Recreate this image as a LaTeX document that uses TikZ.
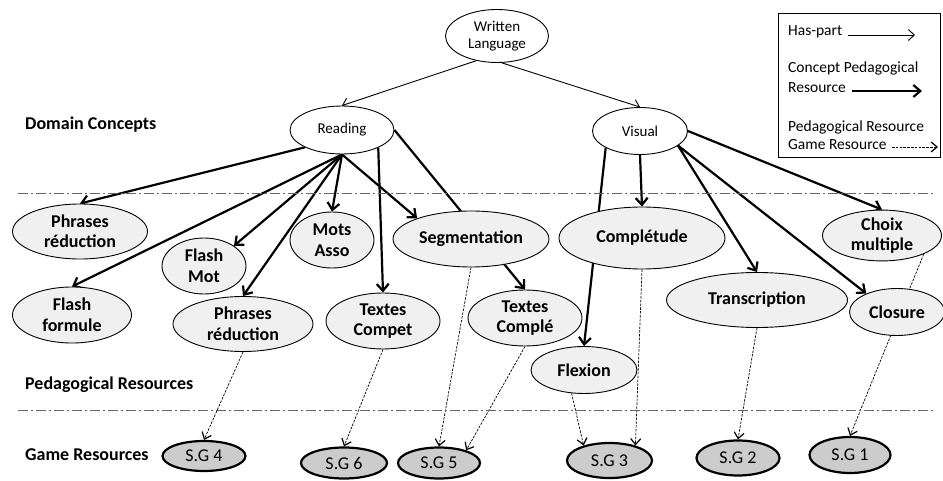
\documentclass[tikz,border=0pt]{standalone}
\usepackage{fontspec}
\setmainfont{Carlito}
\usetikzlibrary{shapes.geometric,arrows.meta}
\pgfdeclarelayer{bg}
\pgfsetlayers{bg,main}
\begin{document}
\begin{tikzpicture}[x=1pt,y=-1pt,
  concept/.style={ellipse,draw=black,line width=0.9pt,fill=white,inner sep=0pt,align=center,font=\fontsize{15}{17}\selectfont},
  pedres/.style={ellipse,draw=black,line width=0.9pt,fill=black!6,inner sep=0pt,align=center,font=\bfseries\fontsize{18}{20.5}\selectfont},
  gameres/.style={ellipse,draw=black,line width=2.2pt,fill=black!20,inner sep=0pt,font=\fontsize{18}{20}\selectfont},
  lbl/.style={anchor=west,inner sep=0pt,font=\bfseries\fontsize{18}{20}\selectfont},
  legtext/.style={anchor=west,inner sep=0pt,font=\fontsize{15.5}{17}\selectfont},
  haspart/.style={line width=0.9pt,-{Straight Barb[length=6pt,width=11pt,line width=0.9pt]}},
  cpr/.style={line width=2.2pt,-{Straight Barb[length=7pt,width=12pt]}},
  prgr/.style={line width=0.7pt,dash pattern=on 2.5pt off 1.3pt,-{Straight Barb[length=6pt,width=10pt,line width=1.2pt]}},
  sepline/.style={draw=black!60,line width=0.9pt,dash pattern=on 10pt off 3pt on 2pt off 3pt},
]
\useasboundingbox (0,0) rectangle (943,481);

% separators
\coordinate (s1a) at (18,193); \coordinate (s1b) at (933,193);
\coordinate (s2a) at (18,410); \coordinate (s2b) at (933,410);
\draw[sepline] (s1a) -- (s1b);
\draw[sepline] (s2a) -- (s2b);

% layer labels
\node[lbl] (ldc) at (25,125) {Domain Concepts};
\node[lbl] (lpr) at (25,385) {Pedagogical Resources};
\node[lbl] (lgr) at (25,455) {Game Resources};

% concepts
\node[concept,minimum width=103,minimum height=53] (WL) at (497,36) {Written\\Language};
\node[concept,minimum width=104,minimum height=48] (Reading) at (342,130) {Reading};
\node[concept,minimum width=95,minimum height=47] (Visual) at (640,131) {Visual};

% pedagogical resources
\node[pedres,minimum width=135,minimum height=55] (PR1) at (80,231.5) {Phrases\\réduction};
\node[pedres,minimum width=84,minimum height=56] (FM) at (204,266) {Flash\\Mot};
\node[pedres,minimum width=84,minimum height=56] (MA) at (332,240) {Mots\\Asso};
\node[pedres,minimum width=156,minimum height=56] (Seg) at (471,239) {Segmentation};
\node[pedres,minimum width=166,minimum height=62] (Compl) at (642,238) {Complétude};
\node[pedres,minimum width=119,minimum height=47] (Choix) at (882,235.5) {Choix\\multiple};
\node[pedres,minimum width=119,minimum height=56] (FF) at (72,315) {Flash\\formule};
\node[pedres,minimum width=140,minimum height=55] (PR2) at (243,324) {Phrases\\réduction};
\node[pedres,minimum width=114,minimum height=56] (TCo) at (383,321) {Textes\\Compet};
\node[pedres,minimum width=114,minimum height=56] (TCl) at (525,318) {Textes\\Complé};
\node[pedres,minimum width=181,minimum height=55] (Trans) at (757,300) {Transcription};
\node[pedres,minimum width=95,minimum height=47] (Clos) at (897,312) {Closure};
\node[pedres,minimum width=106,minimum height=47] (Flex) at (584,370) {Flexion};

% game resources
\node[gameres,minimum width=83,minimum height=30] (SG4) at (204,456) {S.G 4};
\node[gameres,minimum width=86,minimum height=31] (SG6) at (344,463) {S.G 6};
\node[gameres,minimum width=82,minimum height=31] (SG5) at (439,463) {S.G 5};
\node[gameres,minimum width=85,minimum height=35] (SG3) at (609.5,460.5) {S.G 3};
\node[gameres,minimum width=83,minimum height=35] (SG2) at (738,458) {S.G 2};
\node[gameres,minimum width=81,minimum height=36] (SG1) at (850,455) {S.G 1};

% legend
\node[draw=black,line width=0.9pt,rectangle,inner sep=0pt,minimum width=162,minimum height=144,anchor=north west] (leg) at (778,13) {};
\node[legtext] (lt1) at (788,32) {Has-part};
\node[legtext] (lt2) at (788,68) {Concept Pedagogical};
\node[legtext] (lt3) at (788,88) {Resource};
\node[legtext] (lt4) at (788,127) {Pedagogical Resource};
\node[legtext] (lt5) at (788,145) {Game Resource};
\coordinate (la1) at (848,35); \coordinate (lb1) at (915,35);
\coordinate (la2) at (852,91); \coordinate (lb2) at (922,91);
\coordinate (la3) at (892,147); \coordinate (lb3) at (938,147);
\draw[haspart] (la1) -- (lb1);
\draw[cpr] (la2) -- (lb2);
\draw[prgr] (la3) -- (lb3);

\begin{pgfonlayer}{bg}
\draw[haspart] (WL.230) -- (Reading.north);
\draw[haspart] (WL.280) -- (Visual.north);
\draw[cpr] (Reading.205) -- (PR1.north);
\draw[cpr] (Reading.south) -- (FF.north);
\draw[cpr] (Reading.south) -- (FM.34);
\draw[cpr] (Reading.south) -- (PR2.north);
\draw[cpr] (Reading.south) -- (MA.north);
\draw[cpr] (Reading.south) -- (Seg.159);
\draw[cpr] (Reading.-26) -- (TCo.north);
\draw[cpr] (Reading.east) -- (TCl.north);
\draw[cpr] (Visual.south) -- (Compl.north);
\draw[cpr] (Visual.206) -- (Flex.north);
\draw[cpr] (Visual.-21) -- (Trans.north);
\draw[cpr] (Visual.-21) -- (Clos.149);
\draw[cpr] (Visual.east) -- (Choix.north);
\draw[prgr] (PR2.south) -- (SG4.north);
\draw[prgr] (TCo.south) -- (SG6.north);
\draw[prgr] (Seg.south) -- (SG5.north);
\draw[prgr] (TCl.south) -- (SG5.25);
\draw[prgr] (Flex.242) -- (SG3.150);
\draw[prgr] (Compl.south) -- (SG3.30);
\draw[prgr] (Trans.south) -- (SG2.north);
\draw[prgr] (Choix.-24) -- (SG1.north);
\end{pgfonlayer}
\end{tikzpicture}
\end{document}
